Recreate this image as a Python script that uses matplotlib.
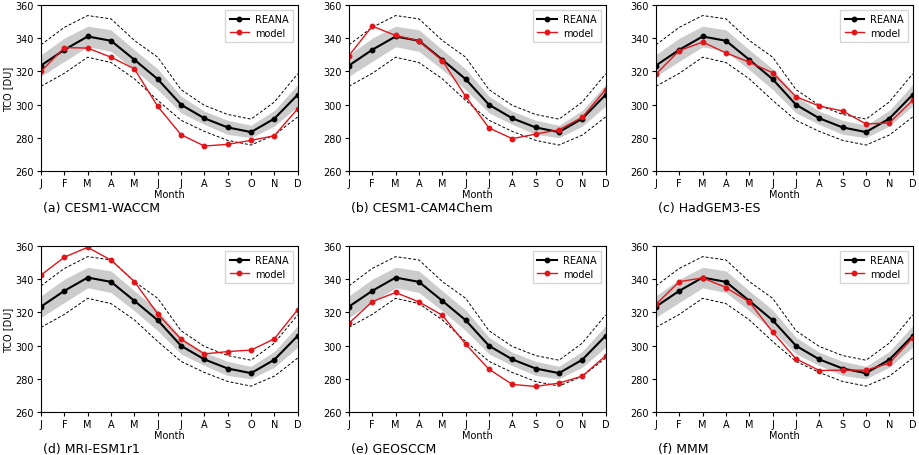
import numpy as np
import matplotlib
matplotlib.use("Agg")
import matplotlib.pyplot as plt

months = ['J', 'F', 'M', 'A', 'M', 'J', 'J', 'A', 'S', 'O', 'N', 'D']

# reanalysis climatology
reana = [323.5, 333.0, 341.0, 338.4, 327.0, 315.3, 299.9, 291.7, 286.2, 283.4, 291.5, 305.9]
band_hi = [330.0, 340.0, 347.2, 345.0, 333.0, 321.5, 305.0, 296.0, 290.5, 287.5, 296.5, 312.0]
band_lo = [317.0, 326.0, 334.8, 332.0, 321.0, 309.0, 295.0, 288.0, 282.0, 280.0, 287.0, 299.0]
outer_hi = [336.0, 346.5, 353.6, 351.6, 338.6, 328.5, 309.0, 299.5, 294.0, 291.2, 301.5, 318.5]
outer_lo = [311.0, 318.8, 328.5, 325.3, 315.5, 302.5, 290.5, 283.8, 278.4, 275.6, 281.6, 292.5]

# model climatologies
waccm = [320.0, 334.3, 334.0, 328.5, 321.5, 298.9, 281.8, 275.0, 276.0, 278.4, 281.2, 297.5]
cam4chem = [329.5, 347.2, 341.6, 338.4, 326.5, 304.9, 285.9, 279.4, 282.2, 284.8, 292.3, 309.0]
hadgem = [318.3, 332.5, 337.6, 331.1, 325.5, 319.1, 304.7, 299.1, 296.1, 288.3, 288.9, 302.5]
mri = [342.5, 353.3, 359.2, 351.5, 338.6, 319.1, 303.8, 295.0, 296.4, 297.3, 304.1, 321.7]
geosccm = [313.5, 326.5, 332.0, 326.3, 318.3, 300.9, 285.8, 276.6, 275.4, 277.4, 281.6, 293.9]
mmm = [324.9, 338.5, 340.8, 335.0, 326.3, 308.2, 292.0, 285.0, 285.2, 285.2, 289.4, 304.6]

titles = ['(a) CESM1-WACCM', '(b) CESM1-CAM4Chem', '(c) HadGEM3-ES',
          '(d) MRI-ESM1r1', '(e) GEOSCCM', '(f) MMM']
models = [waccm, cam4chem, hadgem, mri, geosccm, mmm]

fig = plt.figure(figsize=(9.2, 4.56), dpi=100)

lefts = [0.0446, 0.3793, 0.713]
bottoms = [0.623, 0.0943]
w = 0.279
h = 0.364

x = np.arange(12)
for k in range(6):
    row = k // 3
    col = k % 3
    ax = fig.add_axes([lefts[col], bottoms[row], w, h])
    ax.fill_between(x, band_lo, band_hi, color='#cccccc', lw=0)
    ax.plot(x, outer_hi, 'k--', lw=0.7, dashes=(3, 2))
    ax.plot(x, outer_lo, 'k--', lw=0.7, dashes=(3, 2))
    ax.plot(x, reana, '-o', color='black', lw=1.5, ms=3.2, label='REANA')
    ax.plot(x, models[k], '-o', color='#e0161b', lw=1.0, ms=3.2, label='model')
    ax.set_xlim(0, 11)
    ax.set_ylim(260, 360)
    ax.set_xticks(x)
    ax.set_xticklabels(months)
    ax.set_yticks([260, 280, 300, 320, 340, 360])
    ax.tick_params(labelsize=7, length=3, pad=2)
    ax.set_xlabel('Month', fontsize=7, labelpad=1)
    if col == 0:
        ax.set_ylabel('TCO [DU]', fontsize=7, labelpad=2)
    ax.legend(loc='upper right', fontsize=7, handlelength=2.0,
              borderpad=0.45, labelspacing=0.35, handletextpad=0.6,
              fancybox=False, edgecolor='#cccccc')
    fig.text(lefts[col] + 0.002, bottoms[row] - 0.08, titles[k], fontsize=9,
             ha='left', va='center')

fig.savefig('out.png', dpi=100)
